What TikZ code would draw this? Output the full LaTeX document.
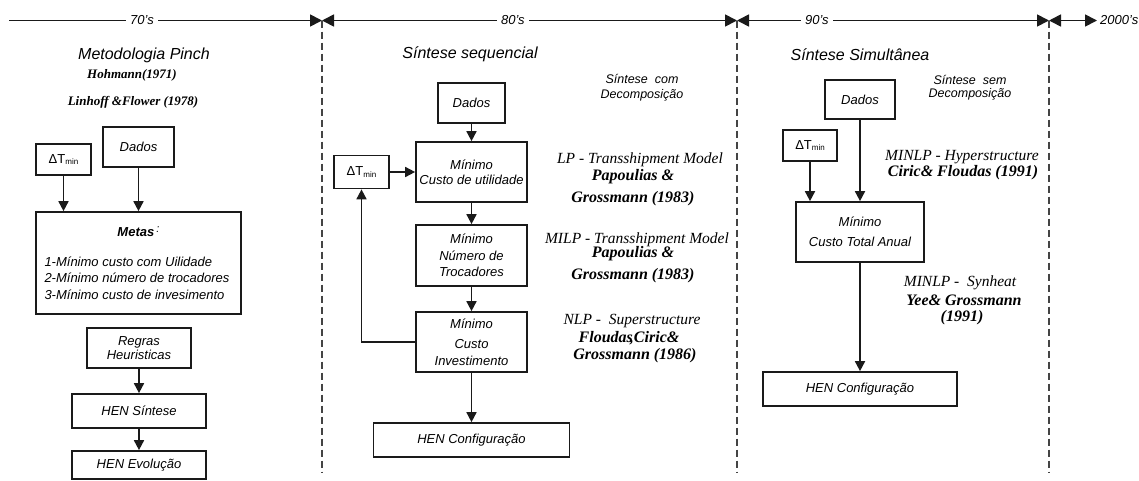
\documentclass[tikz,border=0pt]{standalone}
\usepackage{fontspec}
\setmainfont{Liberation Sans}
\newfontfamily\timesFont{Liberation Serif}
\usetikzlibrary{arrows.meta}

\newcommand{\deltaT}{{\upshape\fontsize{13}{13}\selectfont ΔT\raisebox{-1.5pt}{\fontsize{8}{8}\selectfont min}}}

\begin{document}
\begin{tikzpicture}[x=1pt, y=-1pt,
    box/.style={draw=borderColour, line width=1.7pt, inner sep=1pt, align=center,
        font=\itshape\fontsize{13}{16}\selectfont},
    flow/.style={draw=borderColour, line width=1.7pt, -{Triangle[length=10pt, width=10pt]}},
    eraEnd/.style={draw=borderColour, line width=1.7pt, -{Triangle[length=12pt, width=12pt]}},
    era/.style={draw=borderColour, line width=1.7pt,
        {Triangle[length=12pt, width=12pt]}-{Triangle[length=12pt, width=12pt]}},
    eraLabel/.style={fill=white, inner sep=4pt, font=\itshape\fontsize{13}{13}\selectfont},
    divider/.style={draw=dashColour, line width=1.6pt, dash pattern=on 7pt off 4pt},
    headText/.style={font=\itshape\fontsize{16}{19}\selectfont},
    noteText/.style={align=center, font=\itshape\fontsize{12.5}{15}\selectfont},
    refText/.style={font=\timesFont\itshape\fontsize{15.5}{18}\selectfont},
    refBold/.style={font=\timesFont\bfseries\itshape\fontsize{16}{18}\selectfont},
    refSmall/.style={font=\timesFont\bfseries\itshape\fontsize{13}{15}\selectfont}]

    \useasboundingbox (0,0) rectangle (1139,480);

    % Define the timeline height and the end of the dividers
    \def\lineY{20.5}
    \def\dashEnd{472}

    \definecolor{borderColour}{HTML}{1A1A1A}
    \definecolor{dashColour}{HTML}{444444}

    % Define the timeline coordinates
    \coordinate (t0) at (9,\lineY);
    \coordinate (t1) at (322,\lineY);
    \coordinate (t2) at (737,\lineY);
    \coordinate (t3) at (1049,\lineY);
    \coordinate (t4) at (1097,\lineY);

    % Draw dividers
    \coordinate (d1) at (322,\dashEnd);
    \coordinate (d2) at (737,\dashEnd);
    \coordinate (d3) at (1049,\dashEnd);
    \draw[divider] (t1) -- (d1);
    \draw[divider] (t2) -- (d2);
    \draw[divider] (t3) -- (d3);

    % Draw timeline
    \draw[eraEnd] (t0) -- (t1) node[pos=0.425, eraLabel] (lab70) {70's};
    \draw[era] (t1) -- (t2) node[pos=0.46, eraLabel] (lab80) {80's};
    \draw[era] (t2) -- (t3) node[pos=0.256, eraLabel] (lab90) {90's};
    \draw[era] (t3) -- (t4);
    \node[eraLabel, anchor=west, inner sep=3pt] (lab2000) at (t4) {2000's};

    % Column 1: Metodologia Pinch
    \node[headText] (pinch) at (144,55) {Metodologia Pinch};
    \node[refSmall] (hohmann) at (132,75) {Hohmann(1971)};
    \node[refSmall] (linhoff) at (133,102) {Linhoff \&Flower (1978)};

    \node[box, minimum width=71, minimum height=40] (dadosA) at (138.5,147) {Dados};
    \node[box, minimum width=55, minimum height=31] (deltaA) at (63.5,159.5) {\deltaT};
    \node[box, minimum width=205, minimum height=102] (metas) at (138.5,263) {%
        {\bfseries Metas}\,\raisebox{4pt}{\fontsize{11}{11}\selectfont:}\\[14pt]
        \makebox[188pt][l]{1-Mínimo custo com Uilidade}\\[0.5pt]
        \makebox[188pt][l]{2-Mínimo número de trocadores}\\[0.5pt]
        \makebox[188pt][l]{3-Mínimo custo de invesimento}};
    \node[box, minimum width=104, minimum height=40] (regras) at (139,348) {Regras\\[-2pt]Heuristicas};
    \node[box, minimum width=134, minimum height=34] (sintese) at (139,411) {HEN Síntese};
    \node[box, minimum width=134, minimum height=28] (evolucao) at (139,465) {HEN Evolução};

    \draw[flow] (deltaA) -- (deltaA |- metas.north);
    \draw[flow] (dadosA) -- (metas);
    \draw[flow] (regras) -- (sintese);
    \draw[flow] (sintese) -- (evolucao);

    % Column 2: Sintese sequencial
    \node[headText] (sequencial) at (470,54) {Síntese sequencial};
    \node[noteText] (comDecomp) at (642,88) {Síntese\ \ com\\Decomposição};

    \node[box, minimum width=67, minimum height=40] (dadosB) at (471.5,103) {Dados};
    \node[box, minimum width=111, minimum height=60] (utilidade) at (471.5,172) {Mínimo\\[-1pt]Custo de utilidade};
    \node[box, minimum width=55, minimum height=33] (deltaB) at (361.5,172) {\deltaT};
    \node[box, minimum width=111, minimum height=61] (trocadores) at (471.5,255.5) {Mínimo\\[0.5pt]Número de\\[0.5pt]Trocadores};
    \node[box, minimum width=111, minimum height=60] (investimento) at (471.5,342) {Mínimo\\[4pt]Custo\\[1pt]Investimento};
    \node[box, minimum width=196, minimum height=34] (configB) at (471.5,440) {HEN Configuração};

    \draw[flow] (dadosB) -- (utilidade);
    \draw[flow] (deltaB) -- (utilidade);
    \draw[flow] (utilidade) -- (trocadores);
    \draw[flow] (trocadores) -- (investimento);
    \draw[flow] (investimento) -- (configB);
    \draw[flow] (investimento.west) -- (investimento.west -| deltaB) -- (deltaB);

    \node[refText] (lpModel) at (640,160) {LP - Transshipment Model};
    \node[refBold] (lpAuthorsA) at (633,177) {Papoulias \&};
    \node[refBold] (lpAuthorsB) at (633,199) {Grossmann (1983)};
    \node[refText] (milpModel) at (637,240) {MILP - Transshipment Model};
    \node[refBold] (milpAuthorsA) at (633,254) {Papoulias \&};
    \node[refBold] (milpAuthorsB) at (633,276) {Grossmann (1983)};
    \node[refText] (nlpModel) at (632,321) {NLP -\ \ Superstructure};
    \node[refBold] (nlpAuthorsA) at (629,338) {Floudas\kern-3pt,Ciric\&};
    \node[refBold] (nlpAuthorsB) at (635,356) {Grossmann (1986)};

    % Column 3: Sintese simultanea
    \node[headText] (simultanea) at (860,55) {Síntese Simultânea};
    \node[noteText, font=\itshape\fontsize{12.5}{13}\selectfont] (semDecomp) at (970,88) {Síntese\ \ sem\\Decomposição};

    \node[box, minimum width=70, minimum height=39] (dadosC) at (860,99.5) {Dados};
    \node[box, minimum width=54, minimum height=31] (deltaC) at (810,145.5) {\deltaT};
    \node[box, minimum width=128, minimum height=60] (total) at (860,232) {Mínimo\\[4pt]Custo Total Anual};
    \node[box, minimum width=194, minimum height=34] (configC) at (860,389) {HEN Configuração};

    \draw[flow] (deltaC) -- (deltaC |- total.north);
    \draw[flow] (dadosC) -- (total);
    \draw[flow] (total) -- (configC);

    \node[refText] (minlpHyper) at (962,157) {MINLP -\ Hyperstructure};
    \node[refBold] (hyperAuthors) at (963,173) {Ciric\& Floudas (1991)};
    \node[refText] (minlpSynheat) at (960,283) {MINLP -\ \ Synheat};
    \node[refBold] (synheatAuthorsA) at (964,300) {Yee\& Grossmann};
    \node[refBold] (synheatAuthorsB) at (962,318) {(1991)};

\end{tikzpicture}
\end{document}
